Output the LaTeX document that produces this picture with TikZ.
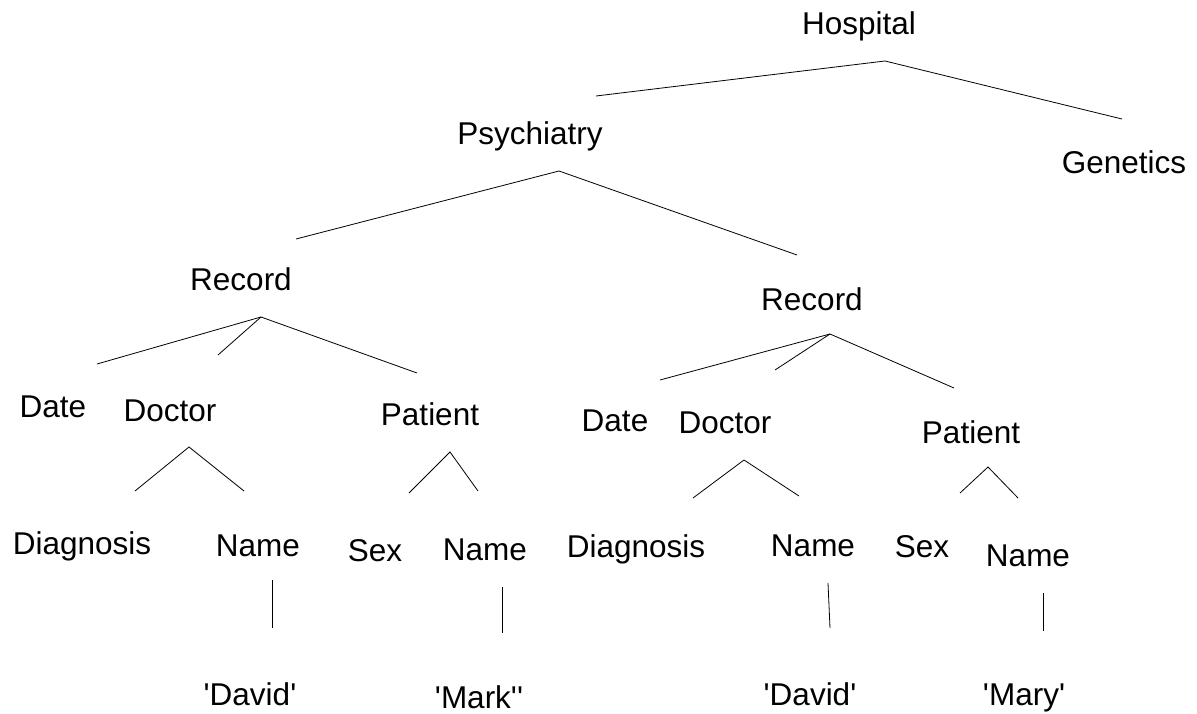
\documentclass[tikz,border=0pt]{standalone}
\usepackage{fontspec}
\setmainfont{Liberation Sans}
\newcommand{\sq}{\textquotesingle}
\begin{document}
\begin{tikzpicture}[x=1pt,y=-1pt,
  lbl/.style={inner sep=0pt, text height=22.5pt, text depth=0pt, font=\fontsize{31.5}{36}\selectfont},
  edge/.style={line width=0.8pt, black}]
\useasboundingbox[fill=white] (0,0) rectangle (1197,714);
% labels
\node[lbl] (hosp) at (859,23) {Hospital};
\node[lbl] (psy) at (530,133) {Psychiatry};
\node[lbl] (gen) at (1124,162) {Genetics};
\node[lbl] (recL) at (241,279) {Record};
\node[lbl] (recR) at (812,299) {Record};
\node[lbl] (dateL) at (53,406) {Date};
\node[lbl] (docL) at (170,410) {Doctor};
\node[lbl] (patL) at (430,414) {Patient};
\node[lbl] (dateR) at (615,420) {Date};
\node[lbl] (docR) at (725,422) {Doctor};
\node[lbl] (patR) at (971,432) {Patient};
\node[lbl] (diagL) at (82,543) {Diagnosis};
\node[lbl] (nameL1) at (258,545) {Name};
\node[lbl] (sexL) at (375,550) {Sex};
\node[lbl] (nameL2) at (485,549) {Name};
\node[lbl] (diagR) at (636,546) {Diagnosis};
\node[lbl] (nameR1) at (813,545) {Name};
\node[lbl] (sexR) at (922,546) {Sex};
\node[lbl] (nameR2) at (1028,555) {Name};
\node[lbl] (davL) at (250,694) {\sq David\sq};
\node[lbl] (mark) at (479,697) {\sq Mark\sq\sq};
\node[lbl] (davR) at (810,694) {\sq David\sq};
\node[lbl] (mary) at (1024,694) {\sq Mary\sq};
% connector end points
\coordinate (hA) at (885,61);
\coordinate (hL) at (596,96);
\coordinate (hR) at (1122,119);
\coordinate (pA) at (559,171);
\coordinate (pL) at (296,239);
\coordinate (pR) at (797,255);
\coordinate (rlA) at (261,317);
\coordinate (rl1) at (97,364);
\coordinate (rl2) at (218,355);
\coordinate (rl3) at (417,373);
\coordinate (rrA) at (830,334);
\coordinate (rr1) at (660,380);
\coordinate (rr2) at (775,370);
\coordinate (rr3) at (954,388);
\coordinate (dlA) at (189,447);
\coordinate (dl1) at (135,491);
\coordinate (dl2) at (244,491);
\coordinate (plA) at (450,452);
\coordinate (pl1) at (409,493);
\coordinate (pl2) at (478,491);
\coordinate (drA) at (744,460);
\coordinate (dr1) at (693,498);
\coordinate (dr2) at (799,496);
\coordinate (prA) at (988,467);
\coordinate (pr1) at (960,493);
\coordinate (pr2) at (1018,498);
\coordinate (v1a) at (272,580);
\coordinate (v1b) at (272,628);
\coordinate (v2a) at (502,587);
\coordinate (v2b) at (502,633);
\coordinate (v3a) at (828,583);
\coordinate (v3b) at (830,628);
\coordinate (v4a) at (1043,593);
\coordinate (v4b) at (1043,631);
% connectors
\draw[edge] (hL) -- (hA) -- (hR);
\draw[edge] (pL) -- (pA) -- (pR);
\draw[edge] (rl1) -- (rlA) -- (rl3);
\draw[edge] (rlA) -- (rl2);
\draw[edge] (rr1) -- (rrA) -- (rr3);
\draw[edge] (rrA) -- (rr2);
\draw[edge] (dl1) -- (dlA) -- (dl2);
\draw[edge] (pl1) -- (plA) -- (pl2);
\draw[edge] (dr1) -- (drA) -- (dr2);
\draw[edge] (pr1) -- (prA) -- (pr2);
\draw[edge] (v1a) -- (v1b);
\draw[edge] (v2a) -- (v2b);
\draw[edge] (v3a) -- (v3b);
\draw[edge] (v4a) -- (v4b);
\end{tikzpicture}
\end{document}
